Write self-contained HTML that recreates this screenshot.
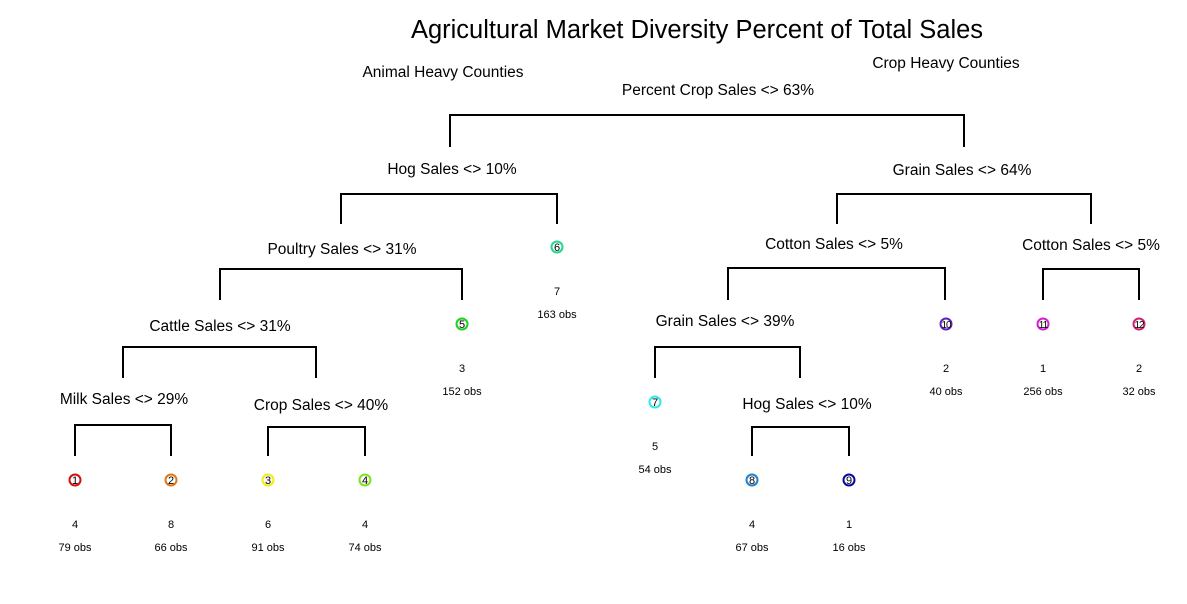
<!DOCTYPE html>
<html><head><meta charset="utf-8"><style>
html,body{margin:0;padding:0;background:#fff;}
svg{display:block;font-family:"Liberation Sans",Arial,sans-serif;}
</style></head><body>
<svg id="chart" width="1187" height="604" viewBox="0 0 1187 604">
<text x="697" y="38" font-size="25.5" text-anchor="middle">Agricultural Market Diversity Percent of Total Sales</text>
<text x="443" y="77" font-size="15.5" text-anchor="middle">Animal Heavy Counties</text>
<text x="946" y="68" font-size="15.5" text-anchor="middle">Crop Heavy Counties</text>
<g id="splits"></g>
<g id="leaves"></g>
</svg>
<script>
const splitLabels = ["Percent Crop Sales <> 63%","Hog Sales <> 10%","Grain Sales <> 64%","Poultry Sales <> 31%","Cotton Sales <> 5%","Cotton Sales <> 5%","Cattle Sales <> 31%","Grain Sales <> 39%","Milk Sales <> 29%","Crop Sales <> 40%","Hog Sales <> 10%"];
const splitLabelX = [718,452,962,342,834,1091,220,725,124,321,807];
const splitLabelY = [95,174,175,254,249,250,331,326,404,410,409];
const bracketY = [115,194,194,269,268,269,347,347,425,427,427];
const bracketL = [450,341,837,220,728,1043,123,655,75,268,752];
const bracketR = [964,557,1091,462,945,1139,316,800,171,365,849];
const bracketB = [147,224,224,300,300,300,378,378,456,456,456];
const leafIds = [1,2,3,4,5,6,7,8,9,10,11,12];
const leafX = [75,171,268,365,462,557,655,752,849,946,1043,1139];
const leafY = [480,480,480,480,324,247,402,480,480,324,324,324];
const leafValues = [4,8,6,4,3,7,5,4,1,2,1,2];
const leafObs = [79,66,91,74,152,163,54,67,16,40,256,32];
const leafColors = ["#d01010","#e07818","#eeee10","#80e020","#20d020","#20d890","#30e8e8","#2080d0","#0808a0","#6020c0","#d020d0","#d02070"];

const NS="http://www.w3.org/2000/svg";
const sg=document.getElementById('splits'), lg=document.getElementById('leaves');
function mk(tag,attrs,parent){const e=document.createElementNS(NS,tag);for(const k in attrs)e.setAttribute(k,attrs[k]);parent.appendChild(e);return e;}
splitLabels.forEach((lab,i)=>{
  const t=mk('text',{x:splitLabelX[i],y:splitLabelY[i],'font-size':15.5,'text-anchor':'middle'},sg);
  t.textContent=lab;
  
  
  const p=mk('path',{d:`M${bracketL[i]},${bracketB[i]}V${bracketY[i]}H${bracketR[i]}V${bracketB[i]}`,fill:'none',stroke:'#000','stroke-width':2},sg);
  
  
});
leafIds.forEach((id,i)=>{
  const x=leafX[i],y=leafY[i];
  const c=mk('circle',{cx:x,cy:y,r:5.5,fill:'#fff',stroke:leafColors[i],'stroke-width':2},lg);
  
  
  const n=mk('text',{x:x,y:y+4,'font-size':id>9?10:11,'text-anchor':'middle','letter-spacing':id>9?-1:0},lg);
  n.textContent=id;
  
  
  const v=mk('text',{x:x,y:y+48,'font-size':11,'text-anchor':'middle'},lg);
  v.textContent=leafValues[i];
  
  
  const o=mk('text',{x:x,y:y+71,'font-size':11,'text-anchor':'middle'},lg);
  o.textContent=leafObs[i]+' obs';
  
  
});
</script>
</body></html>
